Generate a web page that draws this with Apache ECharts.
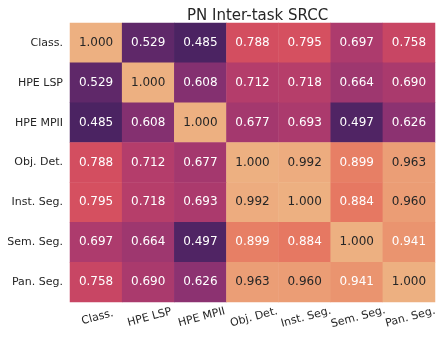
<!DOCTYPE html>
<html>
<head>
<meta charset="utf-8">
<script src="https://cdn.jsdelivr.net/npm/echarts@6/dist/echarts.min.js"></script>
<style>
  html, body { margin: 0; padding: 0; background: #fff; }
  #chart { width: 443px; height: 337px; }
</style>
</head>
<body>
<div id="chart"></div>
<script>
// 任务名称（行列相同）
var tasks = ['Class.', 'HPE LSP', 'HPE MPII', 'Obj. Det.', 'Inst. Seg.', 'Sem. Seg.', 'Pan. Seg.'];
// SRCC 矩阵，按行
var srcc = [
    [1.000, 0.529, 0.485, 0.788, 0.795, 0.697, 0.758],
    [0.529, 1.000, 0.608, 0.712, 0.718, 0.664, 0.690],
    [0.485, 0.608, 1.000, 0.677, 0.693, 0.497, 0.626],
    [0.788, 0.712, 0.677, 1.000, 0.992, 0.899, 0.963],
    [0.795, 0.718, 0.693, 0.992, 1.000, 0.884, 0.960],
    [0.697, 0.664, 0.497, 0.899, 0.884, 1.000, 0.941],
    [0.758, 0.690, 0.626, 0.963, 0.960, 0.941, 1.000]
];

// flare 色带 (seaborn)
var flare = ['#4b2362', '#6c2b6d', '#8f3371', '#b13c6c', '#d14a61', '#e3685c', '#e98d6b', '#edb081'];

var cells = [];
for (var r = 0; r < srcc.length; r++) {
    for (var c = 0; c < srcc[r].length; c++) {
        var v = srcc[r][c];
        cells.push({
            value: [c, r, v],
            label: { color: v > 0.95 ? '#262626' : '#ffffff' }
        });
    }
}

var chart = echarts.init(document.getElementById('chart'));
chart.setOption({
    backgroundColor: '#ffffff',
    animation: false,
    title: {
        text: 'PN Inter-task SRCC',
        left: 182,
        top: 4,
        textStyle: { fontFamily: 'DejaVu Sans', fontSize: 15, fontWeight: 'normal', color: '#262626' }
    },
    grid: { left: 70, right: 8, top: 23, bottom: 35 },
    xAxis: {
        type: 'category',
        data: tasks,
        axisLine: { show: false },
        axisTick: { show: false },
        splitArea: { show: false },
        axisLabel: {
            interval: 0,
            hideOverlap: false,
            rotate: 15,
            align: 'center',
            verticalAlign: 'top',
            margin: 10,
            fontFamily: 'DejaVu Sans',
            fontSize: 11,
            color: '#262626'
        }
    },
    yAxis: {
        type: 'category',
        data: tasks,
        inverse: true,
        axisLine: { show: false },
        axisTick: { show: false },
        axisLabel: {
            interval: 0,
            margin: 7,
            fontFamily: 'DejaVu Sans',
            fontSize: 11,
            color: '#262626'
        }
    },
    visualMap: {
        show: false,
        min: 0.485,
        max: 1.0,
        dimension: 2,
        inRange: { color: flare }
    },
    series: [{
        type: 'heatmap',
        data: cells,
        label: {
            show: true,
            fontFamily: 'DejaVu Sans',
            fontSize: 12,
            formatter: function (p) { return p.value[2].toFixed(3); }
        },
        itemStyle: { borderWidth: 0 },
        emphasis: { disabled: true }
    }]
});
</script>
</body>
</html>
